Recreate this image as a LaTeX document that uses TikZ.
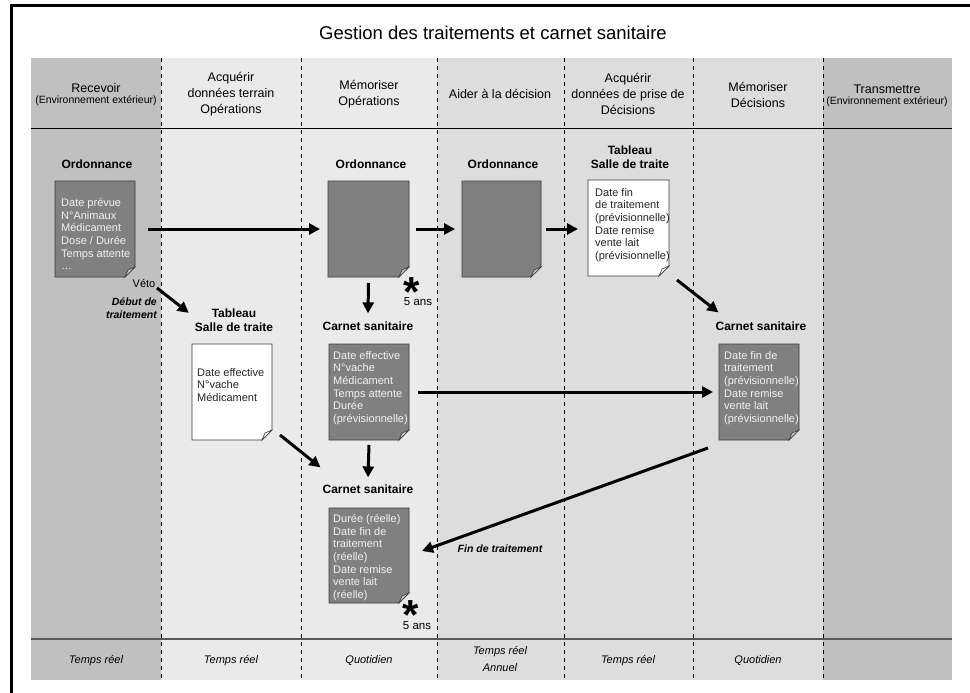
\documentclass[tikz,border=0pt]{standalone}
\usepackage{fontspec}
\setmainfont{Liberation Sans}
\usetikzlibrary{arrows.meta}
\definecolor{colA}{HTML}{C0C0C0}
\definecolor{colB}{HTML}{EAEAEA}
\definecolor{colC}{HTML}{DDDDDD}
\definecolor{docgray}{HTML}{808080}
\definecolor{docline}{HTML}{3A3A3A}
\definecolor{flapgray}{HTML}{C8C8C8}
\definecolor{doctxt}{HTML}{F2F2F2}
\newcommand\docshape[3]{%
  \filldraw[fill=#2, draw=docline, line width=0.8pt] (#1.north west) -- (#1.north east) -- ([yshift=10pt]#1.south east) -- ([xshift=-10pt]#1.south east) -- (#1.south west) -- cycle;
  \filldraw[fill=#3, draw=docline, line width=0.6pt] ([yshift=10pt]#1.south east) -- ([xshift=-10pt]#1.south east) -- ([shift={(-7pt,7pt)}]#1.south east) -- cycle;
}
\begin{document}
\begin{tikzpicture}[x=1pt,y=-1pt,
  hdr/.style={inner sep=0pt, align=center, font=\fontsize{12.5}{16}\selectfont},
  hdrsmall/.style={inner sep=0pt, font=\fontsize{10.5}{12}\selectfont},
  foot/.style={inner sep=0pt, align=center, font=\fontsize{11}{13}\selectfont\itshape},
  doctitle/.style={inner sep=0pt, align=center, font=\fontsize{12}{14}\selectfont\bfseries},
  docbox/.style={inner sep=0pt, outer sep=0pt, anchor=north west},
  doctext/.style={inner sep=0pt, anchor=north west, align=left, font=\fontsize{11}{12.7}\selectfont, text=doctxt},
  doctextdark/.style={doctext, text=black!85},
  arr/.style={line width=3pt, -{Triangle[length=11pt,width=11pt]}},
  divider/.style={dash pattern=on 4pt off 4pt, line width=0.9pt},
  note/.style={inner sep=0pt, font=\fontsize{11.5}{13}\selectfont},
  bi/.style={inner sep=0pt, align=right, font=\fontsize{10.5}{13}\selectfont\bfseries\itshape},
  star/.style={inner sep=0pt, anchor=base, font=\fontsize{42}{42}\selectfont\bfseries}
]
\useasboundingbox (0,0) rectangle (970,693);
\fill[white] (0,0) rectangle (970,693);
% frame
\draw[line width=3pt] (11.5,693) -- (11.5,6) -- (970,6);
% title
\node[inner sep=0pt, font=\fontsize{18.5}{21}\selectfont] (title) at (493,33) {Gestion des traitements et carnet sanitaire};
% columns
\fill[colA] (31,58) rectangle (161,680);
\fill[colB] (161,58) rectangle (437,680);
\fill[colC] (437,58) rectangle (823,680);
\fill[colA] (823,58) rectangle (952,680);
\foreach \x in {161,301,437,564,693,823} \draw[divider] (\x,58) -- (\x,680);
\draw[line width=0.8pt] (31,128) -- (952,128);
\draw[line width=1.5pt, black!65] (31,639) -- (952,639);
% headers
\node[hdr] (h1) at (96,88) {Recevoir};
\node[hdrsmall] (h1b) at (96,101) {(Environnement extérieur)};
\node[hdr] (h2) at (231,94.3) {Acquérir\\données terrain\\Opérations};
\node[hdr] (h3) at (369,94.5) {Mémoriser\\Opérations};
\node[hdr] (h4) at (500,94) {Aider à la décision};
\node[hdr] (h5) at (628,94) {Acquérir\\données de prise de\\Décisions};
\node[hdr] (h6) at (758,94.5) {Mémoriser\\Décisions};
\node[hdr] (h7) at (887,89) {Transmettre};
\node[hdrsmall] (h7b) at (887,102) {(Environnement extérieur)};
% footers
\node[foot] (f1) at (96,661) {Temps réel};
\node[foot] (f2) at (231,661) {Temps réel};
\node[foot] (f3) at (369,661) {Quotidien};
\node[foot] (f4a) at (500,652) {Temps réel};
\node[foot] (f4b) at (500,668) {Annuel};
\node[foot] (f5) at (628,661) {Temps réel};
\node[foot] (f6) at (758,661) {Quotidien};
% document titles
\node[doctitle] (o1t) at (97,164) {Ordonnance};
\node[doctitle] (o2t) at (371,164) {Ordonnance};
\node[doctitle] (o3t) at (503,164) {Ordonnance};
\node[doctitle] (t5t) at (630,157) {Tableau\\Salle de traite};
\node[doctitle] (t2t) at (234,320) {Tableau\\Salle de traite};
\node[doctitle] (c3t) at (368,326) {Carnet sanitaire};
\node[doctitle] (c6t) at (761,326) {Carnet sanitaire};
\node[doctitle] (cbt) at (368,489) {Carnet sanitaire};
% documents
\node[docbox, minimum width=80pt, minimum height=96pt] (o1) at (55,181) {};
\docshape{o1}{docgray}{flapgray}
\node[docbox, minimum width=81pt, minimum height=96pt] (o2) at (328,181) {};
\docshape{o2}{docgray}{flapgray}
\node[docbox, minimum width=79pt, minimum height=96pt] (o3) at (462,181) {};
\docshape{o3}{docgray}{flapgray}
\node[docbox, minimum width=81pt, minimum height=96pt] (t5) at (588,180) {};
\docshape{t5}{white}{white}
\node[docbox, minimum width=80pt, minimum height=96pt] (t2) at (192,344) {};
\docshape{t2}{white}{white}
\node[docbox, minimum width=80pt, minimum height=96pt] (c3) at (329,344) {};
\docshape{c3}{docgray}{flapgray}
\node[docbox, minimum width=80pt, minimum height=96pt] (c6) at (719,344) {};
\docshape{c6}{docgray}{flapgray}
\node[docbox, minimum width=80pt, minimum height=95pt] (cb) at (329,508) {};
\docshape{cb}{docgray}{flapgray}
% document texts
\node[doctext] (o1x) at (61,198) {Date prévue\\N°Animaux\\Médicament\\Dose / Durée\\Temps attente\\…};
\node[doctextdark] (t5x) at (595,188) {Date fin\\de traitement\\(prévisionnelle)\\Date remise\\vente lait\\(prévisionnelle)};
\node[doctextdark] (t2x) at (197,368) {Date effective\\N°vache\\Médicament};
\node[doctext] (c3x) at (333,351) {Date effective\\N°vache\\Médicament\\Temps attente\\Durée\\(prévisionnelle)};
\node[doctext] (c6x) at (724,351) {Date fin de\\traitement\\(prévisionnelle)\\Date remise\\vente lait\\(prévisionnelle)};
\node[doctext] (cbx) at (333,514) {Durée (réelle)\\Date fin de\\traitement\\(réelle)\\Date remise\\vente lait\\(réelle)};
% notes
\node[star] (s1) at (412,306) {\smash{*}};
\node[note] (a1) at (418,302) {5 ans};
\node[star] (s2) at (411,629) {\smash{*}};
\node[note] (a2) at (417,626) {5 ans};
\node[inner sep=0pt, font=\fontsize{11}{13}\selectfont] (veto) at (144,284) {Véto};
\node[bi, anchor=east] (debut) at (157,308.5) {Début de\\traitement};
\node[bi] (fin) at (500,549) {Fin de traitement};
% arrows
\draw[arr] ([xshift=13pt]o1.east) -- ([xshift=-8pt]o2.west);
\draw[arr] ([xshift=7pt]o2.east) -- ([xshift=-7pt]o3.west);
\draw[arr] ([xshift=5pt]o3.east) -- ([xshift=-10pt]t5.west |- o3.east);
\draw[arr] ([yshift=-6pt]o2.south) -- ([yshift=8pt]c3t.north);
\draw[arr] ([shift={(22pt,-11pt)}]o1.south east) -- ([shift={(-6pt,-4.5pt)}]t2t.north west);
\draw[arr] ([xshift=9pt]c3.east) -- ([xshift=-6pt]c6.west);
\draw[arr] ([shift={(8pt,-4pt)}]t5.south east) -- ([shift={(3pt,9pt)}]c6t.north west);
\draw[arr] ([shift={(8pt,5pt)}]t2.south east) -- ([shift={(-2pt,17pt)}]cbt.north west);
\draw[arr] ([yshift=-5pt]c3.south) -- ([yshift=7pt]cbt.north);
\draw[arr] ([shift={(-11pt,-8pt)}]c6.south west) -- ([shift={(13pt,4.5pt)}]cb.east);
\end{tikzpicture}
\end{document}
